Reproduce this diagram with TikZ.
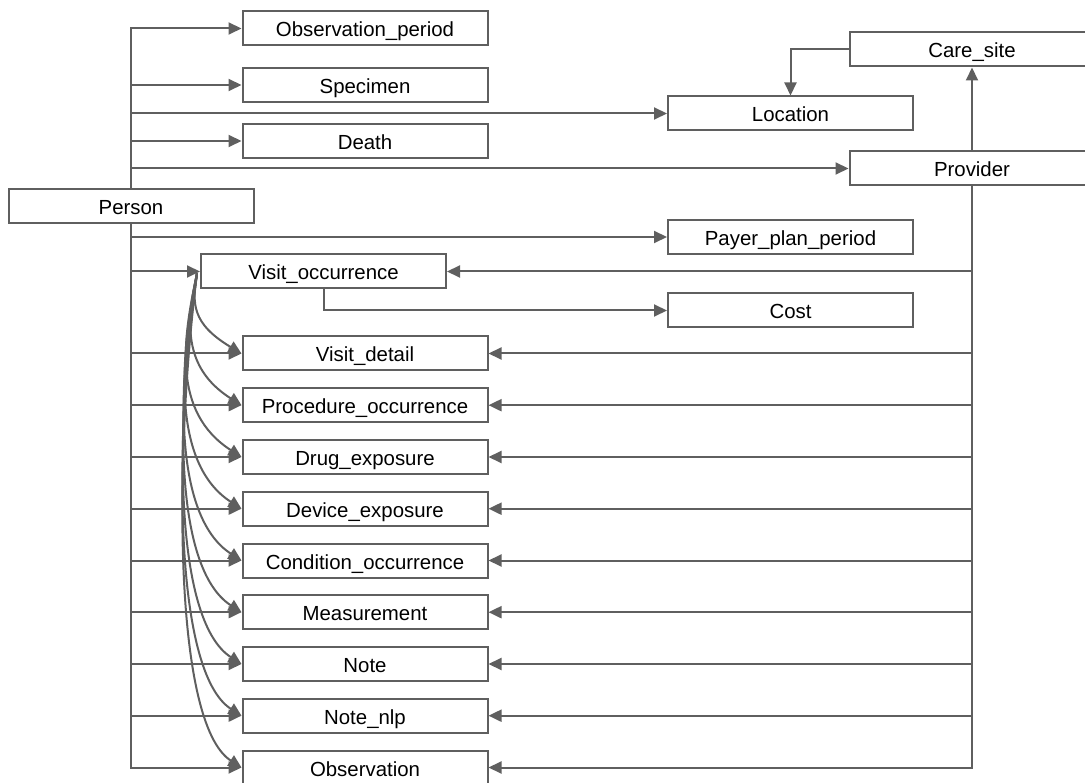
\documentclass[tikz,border=0pt]{standalone}
\usepackage{fontspec}
\setmainfont{Liberation Sans}
\usetikzlibrary{arrows.meta}
\definecolor{linec}{RGB}{95,95,95}
\tikzset{
  tbl/.style={draw=linec, line width=2pt, fill=white, minimum width=245pt,
    minimum height=34pt, inner sep=0pt, text height=17pt, text depth=0pt,
    font=\fontsize{20.4}{24}\selectfont},
  conn/.style={draw=linec, line width=2pt, -{Triangle[length=13pt,width=12pt]}},
}
\begin{document}
\begin{tikzpicture}[x=1pt, y=-1pt]
\useasboundingbox (0,0) rectangle (1085,783);

% person and the tables that hang off it
\node[tbl] (person) at (131,206) {Person};
\node[tbl] (obsp)  at (365,28.5)  {Observation\_period};
\node[tbl] (spec)  at (365,85)    {Specimen};
\node[tbl] (death) at (365,141)   {Death};
\node[tbl] (vocc)  at (323.5,271.5) {Visit\_occurrence};
\node[tbl] (vdet)  at (365,353.5) {Visit\_detail};
\node[tbl] (proc)  at (365,405.2) {Procedure\_occurrence};
\node[tbl] (drug)  at (365,457)   {Drug\_exposure};
\node[tbl] (dev)   at (365,508.7) {Device\_exposure};
\node[tbl] (cond)  at (365,560.5) {Condition\_occurrence};
\node[tbl] (meas)  at (365,612.2) {Measurement};
\node[tbl] (note)  at (365,664)   {Note};
\node[tbl] (nlp)   at (365,715.7) {Note\_nlp};
\node[tbl] (obs)   at (365,767.5) {Observation};

% health system tables
\node[tbl] (loc)   at (790.5,113.5) {Location};
\node[tbl] (payer) at (790.5,237)   {Payer\_plan\_period};
\node[tbl] (cost)  at (790.5,310.5) {Cost};
\node[tbl] (care)  at (972,49.5)    {Care\_site};
\node[tbl] (prov)  at (972,168.5)   {Provider};

% person links
\foreach \t in {obsp,spec,loc,death,prov}
  \draw[conn] (person.north) |- (\t.west);
\foreach \t in {payer,vocc,vdet,proc,drug,dev,cond,meas,note,nlp,obs}
  \draw[conn] (person.south) |- (\t.west);

% provider links
\draw[conn] (prov.north) -- (care.south);
\draw[conn] (care.west) -| (loc.north);
\foreach \t in {vocc,vdet,proc,drug,dev,cond,meas,note,nlp,obs}
  \draw[conn] (prov.south) |- (\t.east);

% visit links
\draw[conn] (vocc.south) |- (cost.west);
\coordinate (vsrc) at ([xshift=-3pt,yshift=-2pt]vocc.west);
\foreach \t/\a/\c/\e/\f in {vdet/-5/30/-50/-30, proc/-10/47/-60/-38,
    drug/-14/65/-70/-45, dev/-17/83/-70/-45, cond/-19/101/-70/-45,
    meas/-20/120/-70/-45, note/-21/138/-70/-45, nlp/-22/156/-70/-45,
    obs/-22/174/-70/-45}
  \draw[conn] (vsrc) .. controls +(\a,\c) and +(\e,\f) .. (\t.west);
\end{tikzpicture}
\end{document}
